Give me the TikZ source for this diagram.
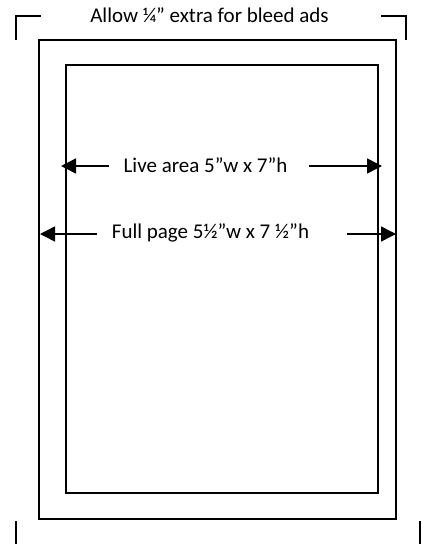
\documentclass[tikz,border=0pt]{standalone}
\usepackage{fontspec}
\setmainfont{Carlito}
\usetikzlibrary{arrows.meta}
\begin{document}
\begin{tikzpicture}[x=1pt,y=-1pt,
  frame/.style={draw=black,line width=2pt},
  cropmark/.style={draw=black,line width=1.6pt},
  dim/.style={draw=black,line width=1.5pt,-{Triangle[length=15pt,width=15pt]}},
  lbl/.style={inner sep=0pt,font=\fontsize{21}{24}\selectfont}]
\useasboundingbox (0,0) rectangle (422,544);
% rectangles
\draw[frame] (39,40) rectangle (396,519);
\draw[frame] (66,65) rectangle (378,493);
% corner marks
\draw[cropmark] (16,40) -- (16,16) -- (41,16);
\draw[cropmark] (381,16) -- (406,16) -- (406,40);
\draw[cropmark] (16,521) -- (16,544);
\draw[cropmark] (420,521) -- (420,544);
% labels
\node[lbl] (bleed) at (209.5,15) {Allow ¼” extra for bleed ads};
\node[lbl] (live) at (205.5,165) {Live area 5”w x 7”h};
\node[lbl] (full) at (210.5,233) {Full page 5½”w x 7 ½”h};
% arrow coordinates
\coordinate (liveL0) at (109,166);
\coordinate (liveL1) at (61,166);
\coordinate (liveR0) at (309,166);
\coordinate (liveR1) at (382,166);
\coordinate (fullL0) at (97,234);
\coordinate (fullL1) at (40,234);
\coordinate (fullR0) at (347,234);
\coordinate (fullR1) at (396,234);
\draw[dim] (liveL0) -- (liveL1);
\draw[dim] (liveR0) -- (liveR1);
\draw[dim] (fullL0) -- (fullL1);
\draw[dim] (fullR0) -- (fullR1);
\end{tikzpicture}
\end{document}
